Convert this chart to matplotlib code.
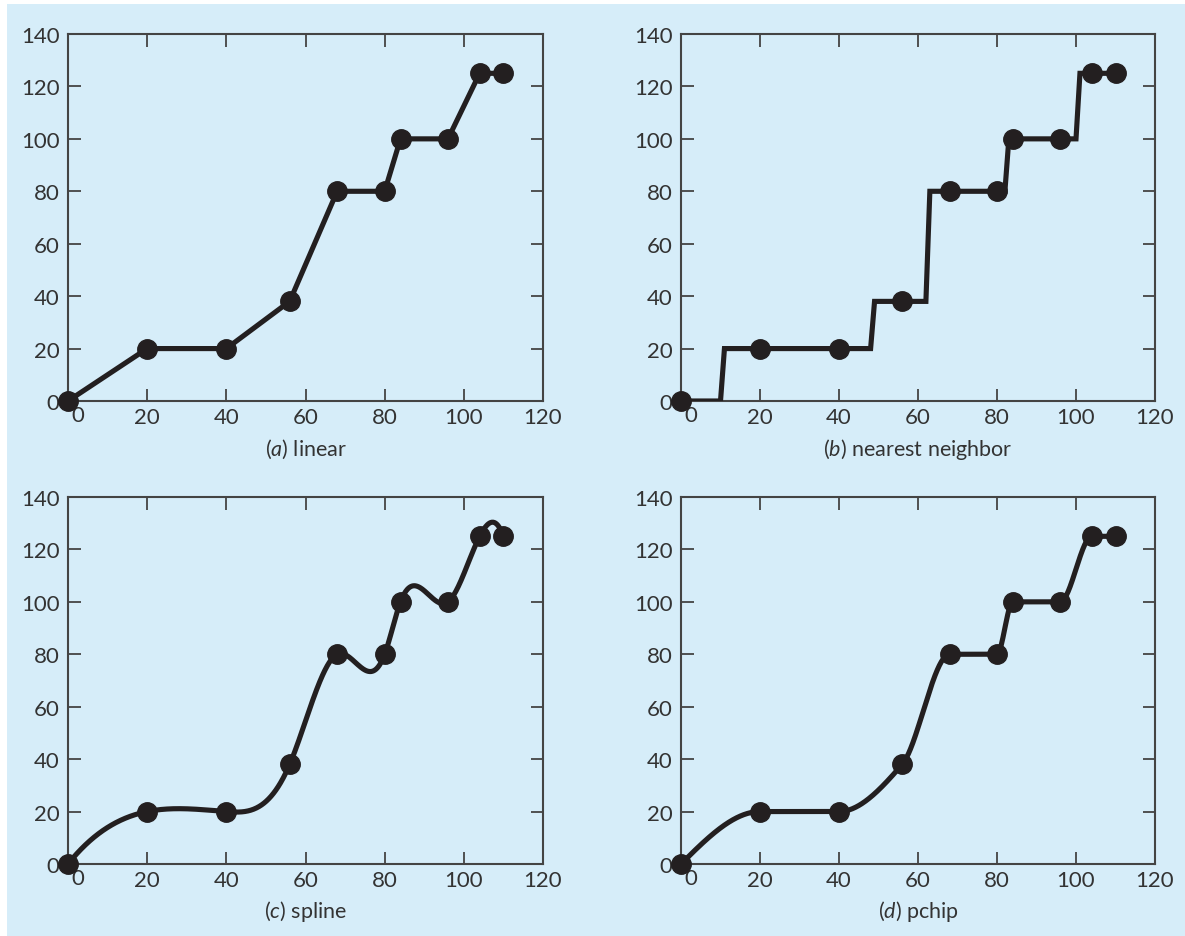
import numpy as np
import matplotlib
matplotlib.use("Agg")
import matplotlib.pyplot as plt
from matplotlib.patches import Rectangle
from matplotlib.transforms import ScaledTranslation

plt.rcParams['font.family'] = ['Lato', 'DejaVu Sans']
plt.rcParams['mathtext.fontset'] = 'custom'
plt.rcParams['mathtext.rm'] = 'Lato'
plt.rcParams['mathtext.it'] = 'Lato:italic'

# data (time, speed)
t = np.array([0, 20, 40, 56, 68, 80, 84, 96, 104, 110], dtype=float)
v = np.array([0, 20, 20, 38, 80, 80, 100, 100, 125, 125], dtype=float)
xticks = [0, 20, 40, 60, 80, 100, 120]
yticks = [0, 20, 40, 60, 80, 100, 120, 140]
captions = [r'($\mathit{a}$) linear', r'($\mathit{b}$) nearest neighbor',
            r'($\mathit{c}$) spline', r'($\mathit{d}$) pchip']

bg = '#d6edf9'
ink = '#231f20'
txt = '#333333'


def spline_notaknot(x, y, xx):
    n = len(x)
    h = np.diff(x)
    d = np.diff(y) / h
    A = np.zeros((n, n))
    b = np.zeros(n)
    A[0, 0], A[0, 1], A[0, 2] = h[1], -(h[0] + h[1]), h[0]
    for i in range(1, n - 1):
        A[i, i - 1] = h[i - 1]
        A[i, i] = 2 * (h[i - 1] + h[i])
        A[i, i + 1] = h[i]
        b[i] = 6 * (d[i] - d[i - 1])
    A[-1, -3], A[-1, -2], A[-1, -1] = h[-1], -(h[-2] + h[-1]), h[-2]
    M = np.linalg.solve(A, b)
    k = np.clip(np.searchsorted(x, xx) - 1, 0, n - 2)
    hk = h[k]
    a = x[k + 1] - xx
    c = xx - x[k]
    return (M[k] * a**3 / (6 * hk) + M[k + 1] * c**3 / (6 * hk)
            + (y[k] / hk - M[k] * hk / 6) * a + (y[k + 1] / hk - M[k + 1] * hk / 6) * c)


def pchip(x, y, xx):
    n = len(x)
    h = np.diff(x)
    d = np.diff(y) / h
    s = np.zeros(n)
    for k in range(1, n - 1):
        if d[k - 1] * d[k] > 0:
            w1 = 2 * h[k] + h[k - 1]
            w2 = h[k] + 2 * h[k - 1]
            s[k] = (w1 + w2) / (w1 / d[k - 1] + w2 / d[k])

    def endslope(h0, h1, d0, d1):
        e = ((2 * h0 + h1) * d0 - h0 * d1) / (h0 + h1)
        if np.sign(e) != np.sign(d0):
            e = 0.0
        elif np.sign(d0) != np.sign(d1) and abs(e) > abs(3 * d0):
            e = 3 * d0
        return e
    s[0] = endslope(h[0], h[1], d[0], d[1])
    s[-1] = endslope(h[-1], h[-2], d[-1], d[-2])
    k = np.clip(np.searchsorted(x, xx) - 1, 0, n - 2)
    hk = h[k]
    u = (xx - x[k]) / hk
    h00 = 2 * u**3 - 3 * u**2 + 1
    h10 = u**3 - 2 * u**2 + u
    h01 = -2 * u**3 + 3 * u**2
    h11 = u**3 - u**2
    return h00 * y[k] + h10 * hk * s[k] + h01 * y[k + 1] + h11 * hk * s[k + 1]


def nearest(x, y, xx):
    idx = np.abs(xx[:, None] - x[None, :]).argmin(axis=1)
    return y[idx]


fine = np.linspace(t[0], t[-1], 1101)
coarse = np.linspace(t[0], t[-1], 111)
curves = [(t, v),
          (coarse, nearest(t, v, coarse)),
          (fine, spline_notaknot(t, v, fine)),
          (fine, pchip(t, v, fine))]

W, H = 1185, 937
fig = plt.figure(figsize=(W / 100, H / 100), dpi=100, facecolor='white')
fig.patches.append(Rectangle((7 / W, 0), 1 - 7 / W, 1 - 5 / H, transform=fig.transFigure,
                             facecolor=bg, edgecolor='none', zorder=-10))

# axes boxes in pixels: left, top, right, bottom
boxes = [(68, 35, 543, 402), (681, 35, 1155, 402),
         (68, 498, 543, 865), (681, 498, 1155, 865)]

for (l, tp, r, bt), (xc, yc), cap in zip(boxes, curves, captions):
    ax = fig.add_axes([l / W, 1 - bt / H, (r - l) / W, (bt - tp) / H])
    ax.set_facecolor(bg)
    ax.plot(xc, yc, color=ink, lw=3.7, solid_joinstyle='miter', zorder=3)
    ax.plot(t, v, 'o', color=ink, ms=14, clip_on=False, zorder=4)
    ax.set_xlim(0, 120)
    ax.set_ylim(0, 140)
    ax.set_xticks(xticks)
    ax.set_xticklabels([''] + [str(x) for x in xticks[1:]])
    ax.set_yticks(yticks)
    ax.tick_params(direction='in', top=True, right=True, length=9, width=1.3,
                   color='#444444', labelsize=16, labelcolor=txt, pad=4)
    ax.tick_params(axis='y', pad=6)
    for sp in ax.spines.values():
        sp.set_color('#444444')
        sp.set_linewidth(1.5)
    off = ScaledTranslation(10 / 100, -4 / 100, fig.dpi_scale_trans)
    ax.text(0, 0, '0', transform=ax.get_xaxis_transform() + off,
            ha='center', va='top', fontsize=16, color=txt)
    ax.text(0.5, -47 / (bt - tp), cap, transform=ax.transAxes, ha='center',
            va='center', fontsize=15.5, color=txt)

fig.savefig('out.png', dpi=100, facecolor='white')
